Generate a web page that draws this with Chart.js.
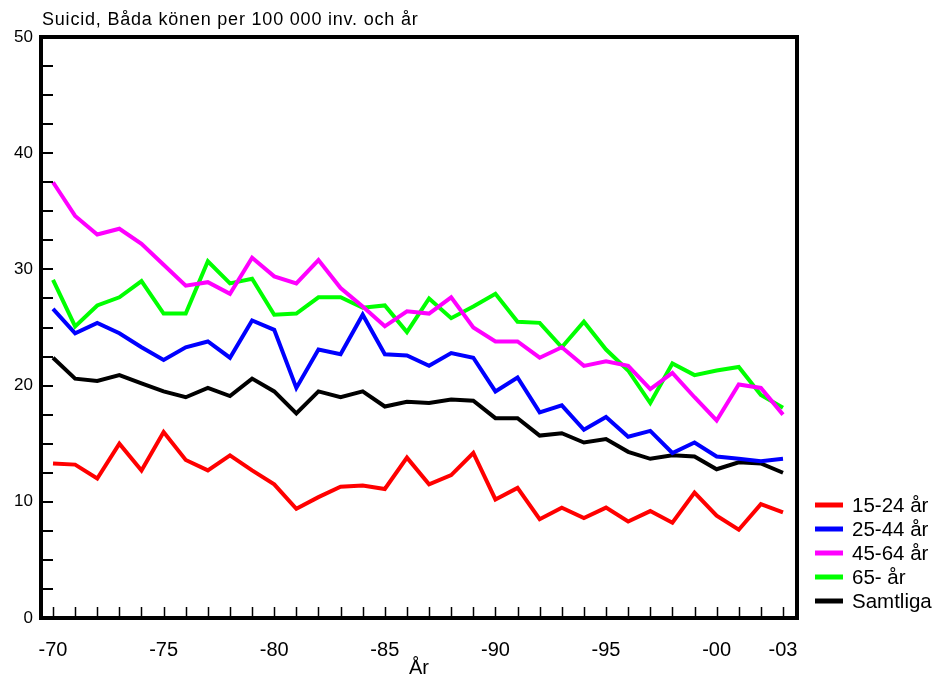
<!DOCTYPE html>
<html>
<head>
<meta charset="utf-8">
<script src="https://cdn.jsdelivr.net/npm/chart.js@4/dist/chart.umd.min.js"></script>
<style>
  html, body { margin: 0; padding: 0; background: #fff; }
  #wrap { width: 937px; height: 680px; }
</style>
</head>
<body>
<div id="wrap"><canvas id="suicidChart" width="937" height="680"></canvas></div>
<script>
// Data, per 100 000 inhabitants and year
const years = [1970, 1971, 1972, 1973, 1974, 1975, 1976, 1977, 1978, 1979,
  1980, 1981, 1982, 1983, 1984, 1985, 1986, 1987, 1988, 1989,
  1990, 1991, 1992, 1993, 1994, 1995, 1996, 1997, 1998, 1999,
  2000, 2001, 2002, 2003];
const age15to24 = [13.3, 13.2, 12.0, 15.0, 12.7, 16.0, 13.6, 12.7, 14.0, 12.7,
  11.5, 9.4, 10.4, 11.3, 11.4, 11.1, 13.8, 11.5, 12.3, 14.2,
  10.2, 11.2, 8.5, 9.5, 8.6, 9.5, 8.3, 9.2, 8.2, 10.8,
  8.8, 7.6, 9.8, 9.1];
const age25to44 = [26.6, 24.5, 25.4, 24.5, 23.3, 22.2, 23.3, 23.8, 22.4, 25.6,
  24.8, 19.8, 23.1, 22.7, 26.1, 22.7, 22.6, 21.7, 22.8, 22.4,
  19.5, 20.7, 17.7, 18.3, 16.2, 17.3, 15.6, 16.1, 14.2, 15.1,
  13.9, 13.7, 13.5, 13.7];
const age45to64 = [37.5, 34.6, 33.0, 33.5, 32.2, 30.4, 28.6, 28.9, 27.9, 31.0,
  29.4, 28.8, 30.8, 28.4, 26.8, 25.1, 26.4, 26.2, 27.6, 25.0,
  23.8, 23.8, 22.4, 23.3, 21.7, 22.1, 21.7, 19.7, 21.1, 19.0,
  17.0, 20.1, 19.8, 17.5];
const age65plus = [29.1, 25.1, 26.9, 27.6, 29.0, 26.2, 26.2, 30.7, 28.8, 29.2,
  26.1, 26.2, 27.6, 27.6, 26.7, 26.9, 24.6, 27.5, 25.8, 26.8,
  27.9, 25.5, 25.4, 23.3, 25.5, 23.1, 21.3, 18.5, 21.9, 20.9,
  21.3, 21.6, 19.2, 18.1];
const allAges = [22.4, 20.6, 20.4, 20.9, 20.2, 19.5, 19.0, 19.8, 19.1, 20.6,
  19.5, 17.6, 19.5, 19.0, 19.5, 18.2, 18.6, 18.5, 18.8, 18.7,
  17.2, 17.2, 15.7, 15.9, 15.1, 15.4, 14.3, 13.7, 14.0, 13.9,
  12.8, 13.4, 13.3, 12.5];

const seriesLabels = ['15-24 år', '25-44 år', '45-64 år', '65- år', 'Samtliga'];
const seriesColors = ['#ff0000', '#0000ff', '#ff00ff', '#00ff00', '#000000'];
const xTickYears = [1970, 1975, 1980, 1985, 1990, 1995, 2000, 2003];
const yTickValues = [0, 10, 20, 30, 40, 50];
const titleText = 'Suicid, Båda könen per 100 000 inv. och år';
const xAxisTitle = 'År';

const FONT = '"Liberation Sans", Arial, sans-serif';

function toPoints(vals) {
  return years.map((yr, i) => ({ x: yr, y: vals[i] }));
}

const seriesValues = [age15to24, age25to44, age45to64, age65plus, allAges];

// frame, inward ticks, title and legend
const decorPlugin = {
  id: 'decor',
  afterDraw(chart) {
    const ctx = chart.ctx;
    const a = chart.chartArea;
    const xs = chart.scales.x;
    const ys = chart.scales.y;
    ctx.save();
    ctx.strokeStyle = '#000';

    // minor ticks on x (every year)
    ctx.lineWidth = 1.5;
    ctx.beginPath();
    years.forEach(yr => {
      const px = Math.round(xs.getPixelForValue(yr)) + 0.5;
      ctx.moveTo(px, a.bottom);
      ctx.lineTo(px, a.bottom - 11);
    });
    ctx.stroke();

    // ticks on y (every 2.5)
    ctx.lineWidth = 2;
    ctx.beginPath();
    for (let v = 2.5; v < 50; v += 2.5) {
      const py = Math.round(ys.getPixelForValue(v));
      ctx.moveTo(a.left, py);
      ctx.lineTo(a.left + 12, py);
    }
    ctx.stroke();

    // frame
    ctx.lineWidth = 4;
    ctx.strokeRect(a.left, a.top, a.right - a.left, a.bottom - a.top);

    // title
    ctx.fillStyle = '#000';
    ctx.font = '18px ' + FONT;
    ctx.letterSpacing = '0.8px';
    ctx.textAlign = 'left';
    ctx.textBaseline = 'middle';
    ctx.fillText(titleText, 42, 20);
    ctx.letterSpacing = '0px';

    // legend
    ctx.font = '20.5px ' + FONT;
    chart.data.datasets.forEach((ds, i) => {
      const y = 505 + i * 24;
      ctx.strokeStyle = ds.borderColor;
      ctx.lineWidth = 5;
      ctx.beginPath();
      ctx.moveTo(815, y);
      ctx.lineTo(843, y);
      ctx.stroke();
      ctx.fillStyle = '#000';
      ctx.fillText(ds.label, 852, y + 1);
    });
    ctx.restore();
  }
};

const ctx = document.getElementById('suicidChart').getContext('2d');
const chart = new Chart(ctx, {
  type: 'line',
  data: {
    datasets: seriesLabels.map((label, i) => ({
      label: label,
      data: toPoints(seriesValues[i]),
      borderColor: seriesColors[i],
      backgroundColor: seriesColors[i],
      borderWidth: 4,
      pointRadius: 0,
      tension: 0,
      fill: false
    }))
  },
  options: {
    responsive: false,
    animation: false,
    layout: { padding: { left: 1, right: 140, top: 37, bottom: 0 } },
    plugins: {
      legend: { display: false },
      title: { display: false },
      tooltip: { enabled: false }
    },
    scales: {
      x: {
        type: 'linear',
        min: 1969.457,
        max: 2003.633,
        afterFit: scale => { scale.height = 62; },
        afterBuildTicks: scale => {
          scale.ticks = xTickYears.map(v => ({ value: v }));
        },
        grid: { display: false, drawTicks: false },
        border: { display: false },
        ticks: {
          color: '#000',
          font: { family: FONT, size: 20 },
          padding: 20,
          maxRotation: 0,
          autoSkip: false,
          callback: v => '-' + String(v).slice(2)
        },
        title: {
          display: true,
          text: xAxisTitle,
          color: '#000',
          font: { family: FONT, size: 20 },
          padding: { top: 0, bottom: 0 }
        }
      },
      y: {
        min: 0,
        max: 50,
        afterFit: scale => { scale.width = 40; },
        afterBuildTicks: scale => {
          scale.ticks = yTickValues.map(v => ({ value: v }));
        },
        grid: { display: false, drawTicks: false },
        border: { display: false },
        ticks: {
          color: '#000',
          font: { family: FONT, size: 17 },
          padding: 8
        }
      }
    }
  },
  plugins: [decorPlugin]
});
</script>
</body>
</html>
